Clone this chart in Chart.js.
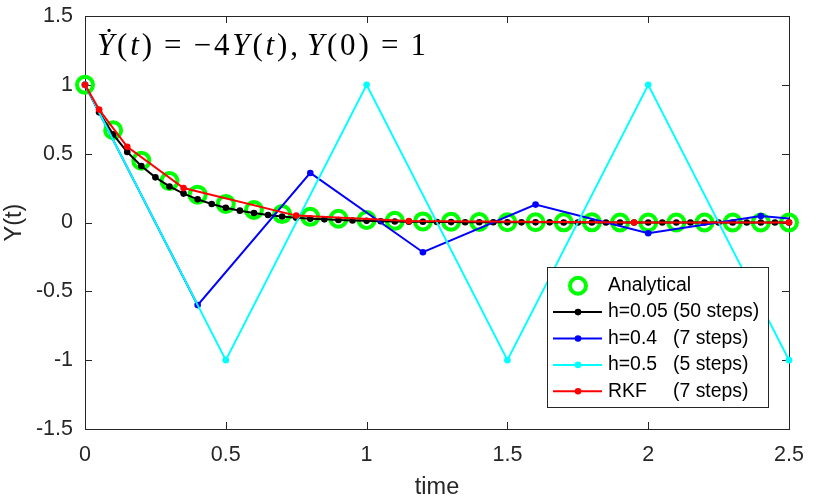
<!DOCTYPE html>
<html>
<head>
<meta charset="utf-8">
<script src="https://cdn.jsdelivr.net/npm/chart.js@4/dist/chart.umd.min.js"></script>
<style>
  html, body { margin: 0; padding: 0; background: #fff; }
  #wrap { width: 830px; height: 503px; }
</style>
</head>
<body>
<div id="wrap"><canvas id="myChart"></canvas></div>
<script>
// values
const tAnalytical = [0, 0.1, 0.2, 0.3, 0.4, 0.5, 0.6, 0.7, 0.8, 0.9, 1.0, 1.1, 1.2, 1.3, 1.4, 1.5, 1.6, 1.7, 1.8, 1.9, 2.0, 2.1, 2.2, 2.3, 2.4, 2.5];
const yAnalytical = [1, 0.670, 0.449, 0.301, 0.202, 0.135, 0.091, 0.061, 0.041, 0.027, 0.018, 0.012, 0.008, 0.006, 0.004, 0.002, 0.002, 0.001, 0.001, 0, 0, 0, 0, 0, 0, 0];

const tH005 = [0, 0.05, 0.1, 0.15, 0.2, 0.25, 0.3, 0.35, 0.4, 0.45, 0.5, 0.55, 0.6, 0.65, 0.7, 0.75, 0.8, 0.85, 0.9, 0.95,
  1.0, 1.05, 1.1, 1.15, 1.2, 1.25, 1.3, 1.35, 1.4, 1.45, 1.5, 1.55, 1.6, 1.65, 1.7, 1.75, 1.8, 1.85, 1.9, 1.95,
  2.0, 2.05, 2.1, 2.15, 2.2, 2.25, 2.3, 2.35, 2.4, 2.45, 2.5];
const yH005 = [1, 0.8, 0.64, 0.512, 0.41, 0.328, 0.262, 0.21, 0.168, 0.134, 0.107, 0.086, 0.069, 0.055, 0.044, 0.035, 0.028, 0.023, 0.018, 0.014,
  0.012, 0.009, 0.007, 0.006, 0.005, 0.004, 0.003, 0.002, 0.002, 0.002, 0.001, 0.001, 0.001, 0.001, 0, 0, 0, 0, 0, 0,
  0, 0, 0, 0, 0, 0, 0, 0, 0, 0, 0];

const tH04 = [0, 0.4, 0.8, 1.2, 1.6, 2.0, 2.4, 2.8];
const yH04 = [1, -0.6, 0.36, -0.216, 0.13, -0.078, 0.047, -0.028];

const tH05 = [0, 0.5, 1.0, 1.5, 2.0, 2.5];
const yH05 = [1, -1, 1, -1, 1, -1];

const tRKF = [0, 0.05, 0.15, 0.35, 0.75, 1.15, 1.95, 2.5];
const yRKF = [1, 0.82, 0.55, 0.25, 0.05, 0.01, 0, 0];

const seriesNames = ['Analytical', 'h=0.05', 'h=0.4', 'h=0.5', 'RKF'];
const stepNotes = ['', '(50 steps)', '(7 steps)', '(5 steps)', '(7 steps)'];

const xTicks = [0, 0.5, 1, 1.5, 2, 2.5];
const yTicks = [-1.5, -1, -0.5, 0, 0.5, 1, 1.5];

const SANS = '"Liberation Sans", Arial, Helvetica, sans-serif';
const SERIF = '"Liberation Serif", "DejaVu Serif", serif';
const AXIS = '#262626';

function pts(xs, ys) {
  return xs.map((x, i) => ({ x: x, y: ys[i] }));
}

// box with inward ticks on all four sides, like matlab
const axesBox = {
  id: 'axesBox',
  beforeDatasetsDraw(chart) {
    const { ctx, chartArea: a, scales } = chart;
    ctx.save();
    ctx.strokeStyle = AXIS;
    ctx.lineWidth = 1;
    ctx.strokeRect(a.left + 0.5, a.top + 0.5, a.right - a.left, a.bottom - a.top);
    ctx.beginPath();
    xTicks.forEach(v => {
      const px = Math.round(scales.x.getPixelForValue(v)) + 0.5;
      ctx.moveTo(px, a.bottom); ctx.lineTo(px, a.bottom - 7);
      ctx.moveTo(px, a.top); ctx.lineTo(px, a.top + 7);
    });
    yTicks.forEach(v => {
      const py = Math.round(scales.y.getPixelForValue(v)) + 0.5;
      ctx.moveTo(a.left, py); ctx.lineTo(a.left + 7, py);
      ctx.moveTo(a.right, py); ctx.lineTo(a.right - 7, py);
    });
    ctx.stroke();
    ctx.restore();
  }
};

// the equation written in the top left corner (italic for the variables)
const eqParts = [
  ['Ẏ', 'i', 0], ['(', 'r', 0], ['t', 'i', 0], [')', 'r', 0],
  ['=', 'r', 0.3], ['−4', 'r', 0.3], ['Y', 'i', 0], ['(', 'r', 0], ['t', 'i', 0], [')', 'r', 0], [',', 'r', 0],
  ['Y', 'i', 0.2], ['(0)', 'r', 0], ['=', 'r', 0.3], ['1', 'r', 0.3]
];
const equation = {
  id: 'equation',
  afterDatasetsDraw(chart) {
    const { ctx, chartArea: a } = chart;
    const size = 31;
    const x0 = a.left + 12;
    const y = a.top + 39;
    const target = 329;
    const fontOf = st => (st === 'i' ? 'italic ' : '') + size + 'px ' + SERIF;
    // natural width, then spread the rest between characters
    let natural = 0, nChars = 0;
    eqParts.forEach(([txt, st, gap]) => {
      ctx.font = fontOf(st);
      natural += gap * size;
      for (const ch of txt) { natural += ctx.measureText(ch).width; nChars++; }
    });
    const extra = Math.max(0, (target - natural) / (nChars - 1));
    let x = x0;
    ctx.save();
    ctx.fillStyle = '#000';
    ctx.textBaseline = 'alphabetic';
    eqParts.forEach(([txt, st, gap]) => {
      x += gap * size;
      ctx.font = fontOf(st);
      for (const ch of txt) {
        ctx.fillText(ch, x, y);
        x += ctx.measureText(ch).width + extra;
      }
    });
    ctx.restore();
  }
};

// legend box in the lower right of the axes
const boxLegend = {
  id: 'boxLegend',
  afterDraw(chart) {
    const { ctx, chartArea: a } = chart;
    const w = 221, h = 140;
    const left = a.right - 21 - w, top = a.bottom - 22 - h;
    ctx.save();
    ctx.fillStyle = '#fff';
    ctx.fillRect(left, top, w, h);
    ctx.strokeStyle = AXIS;
    ctx.lineWidth = 1;
    ctx.strokeRect(left + 0.5, top + 0.5, w, h);
    ctx.font = '19.4px ' + SANS;
    ctx.textBaseline = 'middle';
    chart.data.datasets.forEach((ds, i) => {
      const y = top + 18.7 + i * 26.4;
      const mx = left + 31;
      if (ds.showLine !== false) {
        ctx.strokeStyle = ds.borderColor;
        ctx.lineWidth = ds.borderWidth;
        ctx.beginPath();
        ctx.moveTo(left + 6, y); ctx.lineTo(left + 55, y);
        ctx.stroke();
        ctx.fillStyle = ds.borderColor;
        ctx.beginPath();
        ctx.arc(mx, y, ds.pointRadius, 0, Math.PI * 2);
        ctx.fill();
      } else {
        ctx.strokeStyle = ds.borderColor;
        ctx.lineWidth = ds.pointBorderWidth;
        ctx.beginPath();
        ctx.arc(mx, y, ds.pointRadius, 0, Math.PI * 2);
        ctx.stroke();
      }
      ctx.fillStyle = '#000';
      ctx.fillText(seriesNames[i], left + 61, y);
      if (stepNotes[i]) ctx.fillText(stepNotes[i], left + 126, y);
    });
    ctx.restore();
  }
};

function lineSet(i, xs, ys, color, order) {
  return {
    label: (seriesNames[i] + ' ' + stepNotes[i]).trim(),
    data: pts(xs, ys),
    borderColor: color,
    backgroundColor: color,
    borderWidth: 2,
    pointRadius: 3.3,
    pointBorderWidth: 0,
    pointBackgroundColor: color,
    tension: 0,
    fill: false,
    clip: false,
    order: order
  };
}

const blueSet = lineSet(2, tH04, yH04, '#0000ff', 3);
blueSet.clip = { left: 10, top: 10, right: 0, bottom: 10 };

const ctx = document.getElementById('myChart');
new Chart(ctx, {
  type: 'line',
  data: {
    datasets: [
      {
        label: seriesNames[0],
        data: pts(tAnalytical, yAnalytical),
        borderColor: '#00ff00',
        backgroundColor: 'rgba(0,0,0,0)',
        showLine: false,
        pointRadius: 8,
        pointBorderWidth: 4,
        pointBackgroundColor: 'rgba(0,0,0,0)',
        pointBorderColor: '#00ff00',
        clip: false,
        order: 5
      },
      lineSet(1, tH005, yH005, '#000000', 4),
      blueSet,
      lineSet(3, tH05, yH05, '#00ffff', 2),
      lineSet(4, tRKF, yRKF, '#ff0000', 1)
    ]
  },
  options: {
    responsive: true,
    maintainAspectRatio: false,
    animation: false,
    events: [],
    layout: { padding: { top: 16, right: 41, left: 0, bottom: 0 } },
    plugins: {
      legend: { display: false },
      tooltip: { enabled: false }
    },
    scales: {
      x: {
        type: 'linear',
        min: 0,
        max: 2.5,
        afterBuildTicks: s => { s.ticks = xTicks.map(v => ({ value: v })); },
        afterFit: s => { s.height = 74; s.paddingLeft = 0; s.paddingRight = 0; },
        grid: { display: false, drawTicks: false },
        border: { display: false },
        ticks: { padding: 13, color: AXIS, font: { family: SANS, size: 21.5 }, maxRotation: 0,
          callback: v => String(v) },
        title: { display: true, text: 'time', color: AXIS, padding: { top: 0, bottom: 1 },
          font: { family: SANS, size: 23.5 } }
      },
      y: {
        min: -1.5,
        max: 1.5,
        afterBuildTicks: s => { s.ticks = yTicks.map(v => ({ value: v })); },
        afterFit: s => { s.width = 85; s.paddingTop = 0; s.paddingBottom = 0; },
        grid: { display: false, drawTicks: false },
        border: { display: false },
        ticks: { padding: 12, color: AXIS, font: { family: SANS, size: 21.5 },
          callback: v => String(v) },
        title: { display: true, text: 'Y(t)', color: AXIS, padding: { top: 0, bottom: 0 },
          font: { family: SANS, size: 23.5 } }
      }
    }
  },
  plugins: [axesBox, equation, boxLegend]
});
</script>
</body>
</html>
